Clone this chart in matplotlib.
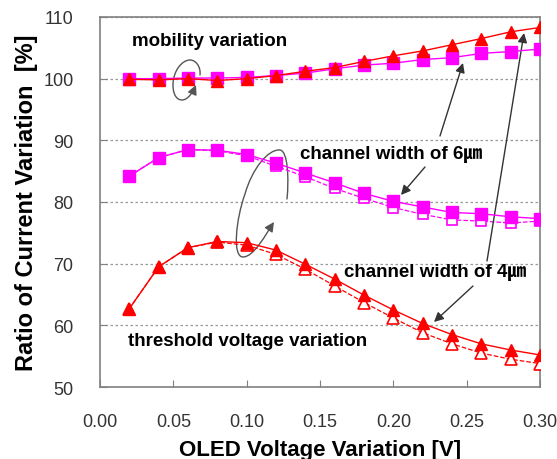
import matplotlib
matplotlib.use('Agg')
import matplotlib.pyplot as plt
import numpy as np
from matplotlib.path import Path
from matplotlib.patches import FancyArrowPatch

# Data
voltage = [0.02, 0.04, 0.06, 0.08, 0.10, 0.12, 0.14, 0.16, 0.18, 0.20, 0.22, 0.24, 0.26, 0.28, 0.30]

# mobility variation
mob_4um = [99.9, 99.8, 100.0, 99.7, 100.0, 100.5, 101.2, 101.8, 102.8, 103.7, 104.5, 105.5, 106.5, 107.6, 108.3]
mob_6um = [100.0, 100.0, 100.1, 100.1, 100.2, 100.5, 100.9, 101.6, 102.2, 102.5, 103.1, 103.4, 104.1, 104.4, 104.8]

# threshold voltage variation (filled = solid, open = dashed)
vth_6um = [84.2, 87.2, 88.5, 88.4, 87.7, 86.3, 84.7, 83.1, 81.4, 80.1, 79.2, 78.3, 78.1, 77.6, 77.3]
vth_6um_open = [84.2, 87.2, 88.5, 88.3, 87.5, 85.8, 84.1, 82.2, 80.6, 79.1, 78.0, 77.1, 76.9, 76.6, 76.9]
vth_4um = [62.7, 69.5, 72.6, 73.6, 73.4, 72.2, 69.9, 67.5, 64.9, 62.5, 60.3, 58.5, 57.0, 56.0, 55.2]
vth_4um_open = [62.7, 69.5, 72.6, 73.5, 73.0, 71.5, 69.1, 66.4, 63.7, 61.2, 58.8, 57.0, 55.5, 54.5, 53.8]

xticks = [0.00, 0.05, 0.10, 0.15, 0.20, 0.25, 0.30]
yticks = [50, 60, 70, 80, 90, 100, 110]

fig = plt.figure(figsize=(5.57, 4.6), dpi=100)
ax = fig.add_axes([0.1795, 0.1565, 0.79, 0.8044])

red = '#FF0000'
mag = '#FF00FF'

ax.plot(voltage, vth_6um_open, color=mag, ls='--', lw=0.9, marker='s', ms=7.5,
        mfc='white', mec=mag, mew=1.2, zorder=3)
ax.plot(voltage, vth_4um_open, color=red, ls='--', lw=0.9, marker='^', ms=8.5,
        mfc='white', mec=red, mew=1.2, zorder=3)
ax.plot(voltage, mob_6um, color=mag, lw=1.0, marker='s', ms=8, mfc=mag, mec=mag, zorder=4)
ax.plot(voltage, vth_6um, color=mag, lw=1.0, marker='s', ms=8, mfc=mag, mec=mag, zorder=4)
ax.plot(voltage, mob_4um, color=red, lw=1.0, marker='^', ms=9, mfc=red, mec=red, zorder=5)
ax.plot(voltage, vth_4um, color=red, lw=1.0, marker='^', ms=9, mfc=red, mec=red, zorder=5)

ax.set_xlim(0, 0.30)
ax.set_ylim(50, 110)
ax.set_xticks(xticks)
ax.set_xticklabels(['%.2f' % t for t in xticks])
ax.set_yticks(yticks)
ax.yaxis.grid(True, color='#999999', ls=(0, (2, 2)), lw=0.9)
ax.set_axisbelow(True)
ax.tick_params(direction='in', length=5, color='#808080', labelsize=13, pad=19,
               labelcolor='#333333')
for lab in ax.get_xticklabels() + ax.get_yticklabels():
    lab.set_family('Liberation Sans')
for s in ax.spines.values():
    s.set_color('#808080')
    s.set_linewidth(1.2)

ax.set_xlabel('OLED Voltage Variation [V]', fontsize=16, fontweight='bold', labelpad=6,
              family='Liberation Sans')
ax.set_ylabel('Ratio of Current Variation  [%]', fontsize=17, fontweight='bold', labelpad=4,
              family='Liberation Sans')


# pixel helpers for annotation placement
def px(x, y):
    return ((x - 100) / 1466.7, 110 - (y - 18) / 6.167)


tfam = ['Liberation Sans', 'Noto Sans CJK KR']
ax.text(*px(132, 42), 'mobility variation', fontsize=13.5, fontweight='bold', va='center', family=tfam)
ax.text(*px(300, 155), 'channel width of 6\u339b', fontsize=13.5, fontweight='bold', va='center', family=tfam)
ax.text(*px(344, 273), 'channel width of 4\u339b', fontsize=13.5, fontweight='bold', va='center', family=tfam)
ax.text(*px(128, 342), 'threshold voltage variation', fontsize=13.5, fontweight='bold', va='center', family=tfam)

# straight arrows
for (x0, y0), (x1, y1) in [((440, 137), (463, 64)), ((425, 168), (401, 196)),
                           ((487, 262), (524, 34)), ((473, 287), (434, 323))]:
    ax.annotate('', xy=px(x1, y1), xytext=px(x0, y0),
                arrowprops=dict(arrowstyle='-|>', color='#333333', lw=1.0,
                                mutation_scale=14, shrinkA=0, shrinkB=0))

# curly arrows
loops = [
    [(200, 76), (201, 68), (196, 61), (190, 61),
     (182, 61), (173, 72), (173, 86),
     (173, 96), (177, 101), (182, 101),
     (188, 101), (193, 93), (196, 86)],
    [(287, 200), (289, 180), (288, 152), (280, 151),
     (268, 150), (252, 170), (245, 195),
     (236, 220), (232, 258), (243, 258),
     (254, 258), (266, 235), (274, 223)],
]
for pts in loops:
    verts = [px(*p) for p in pts]
    codes = [Path.MOVETO] + [Path.CURVE4] * 12
    arr = FancyArrowPatch(path=Path(verts, codes), arrowstyle='-|>', color='#555555',
                          lw=1.0, mutation_scale=14)
    ax.add_patch(arr)

fig.savefig('out.png', dpi=100)
